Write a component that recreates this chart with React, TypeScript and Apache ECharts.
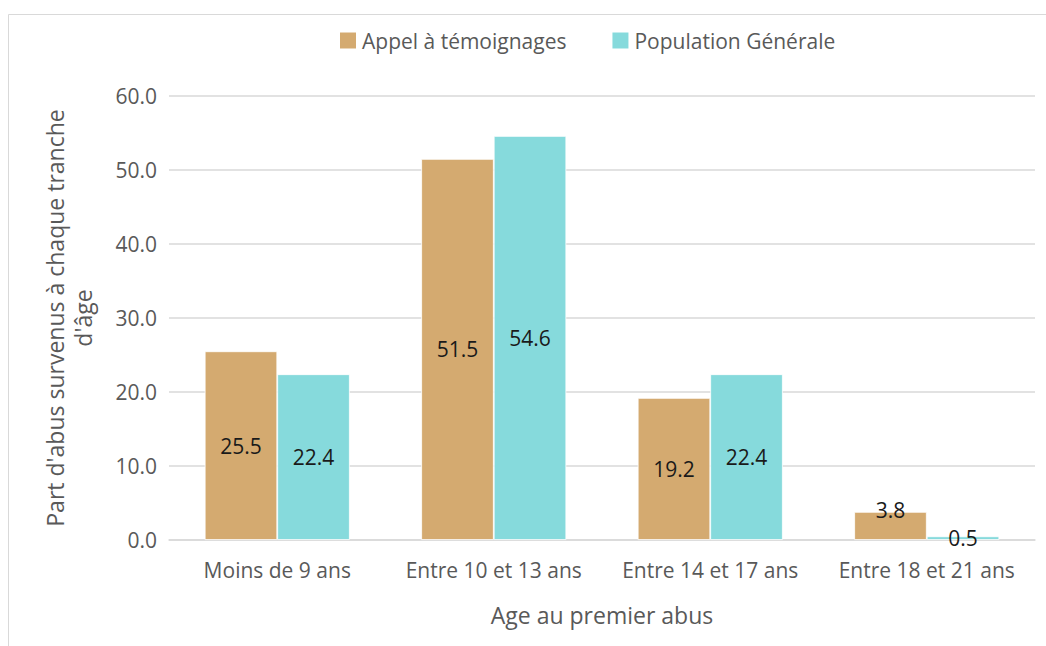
import React, { useEffect, useRef } from "react";
import * as echarts from "echarts";

const categories = ["Moins de 9 ans", "Entre 10 et 13 ans", "Entre 14 et 17 ans", "Entre 18 et 21 ans"];
const appelValues = [25.5, 51.5, 19.2, 3.8];
const populationValues = [22.4, 54.6, 22.4, 0.5];
const seriesNames = ["Appel à témoignages", "Population Générale"];
const yAxisTitle = "Part d'abus survenus à chaque tranche\nd'âge";
const xAxisTitle = "Age au premier abus";

const FONT = "'Open Sans', 'Noto Sans', sans-serif";
const TEXT_GREY = "#595959";

export default function App() {
  const ref = useRef<HTMLDivElement>(null);
  useEffect(() => {
    if (!ref.current) return;
    const chart = echarts.init(ref.current, null, { renderer: "svg" });
    const labelStyle = {
      show: true,
      position: "inside" as const,
      color: "#1a1a1a",
      fontSize: 21,
      fontFamily: FONT,
      formatter: (p: any) => Number(p.value).toFixed(1),
    };
    // small bars: label straddles the bar top as in the original
    const appelData = appelValues.map((v) =>
      v < 10 ? { value: v, label: { position: "top", distance: -9 } } : v
    );
    chart.setOption({
      animation: false,
      backgroundColor: "#ffffff",
      textStyle: { fontFamily: FONT },
      graphic: [
        {
          type: "rect",
          shape: { x: 8.5, y: 14.5, width: 1200, height: 800 },
          style: { fill: "none", stroke: "#d9d9d9", lineWidth: 1 },
          silent: true,
          z: -10,
        },
        {
          type: "text",
          x: 68.5,
          y: 318,
          rotation: Math.PI / 2,
          style: {
            text: yAxisTitle,
            fill: TEXT_GREY,
            font: `23px ${FONT}`,
            align: "center",
            verticalAlign: "middle",
            lineHeight: 28,
          },
        },
      ],
      legend: {
        top: 25,
        left: 333,
        itemWidth: 18,
        itemHeight: 18,
        itemGap: 44,
        textStyle: { color: TEXT_GREY, fontSize: 21, fontFamily: FONT },
        icon: "rect",
        data: seriesNames,
      },
      grid: { left: 169, right: 11, top: 96, bottom: 106, containLabel: false },
      xAxis: {
        type: "category",
        data: categories,
        name: xAxisTitle,
        nameLocation: "middle",
        nameGap: 63,
        nameTextStyle: { color: TEXT_GREY, fontSize: 23, fontFamily: FONT },
        axisLine: { show: true, lineStyle: { color: "#d9d9d9", width: 1.5 } },
        axisTick: { show: false },
        axisLabel: { color: TEXT_GREY, fontSize: 21, fontFamily: FONT, margin: 19, interval: 0 },
      },
      yAxis: {
        type: "value",
        min: 0,
        max: 60,
        interval: 10,
        axisLine: { show: false },
        axisTick: { show: false },
        axisLabel: {
          color: TEXT_GREY,
          fontSize: 21,
          fontFamily: FONT,
          margin: 12,
          formatter: (v: number) => v.toFixed(1),
        },
        splitLine: { lineStyle: { color: "#d9d9d9", width: 1.5 } },
      },
      series: [
        {
          name: seriesNames[0],
          type: "bar",
          data: appelData,
          barGap: "0%",
          barCategoryGap: "33%",
          itemStyle: { color: "#D4AA70", borderColor: "#ffffff", borderWidth: 0.8 },
          label: labelStyle,
        },
        {
          name: seriesNames[1],
          type: "bar",
          data: populationValues,
          barGap: "0%",
          barCategoryGap: "33%",
          itemStyle: { color: "#86DADC", borderColor: "#ffffff", borderWidth: 0.8 },
          label: labelStyle,
        },
      ],
    });
    return () => chart.dispose();
  }, []);
  return (
    <div
      ref={ref}
      style={{ position: "absolute", left: 0, top: 0, width: 1046, height: 646 }}
    />
  );
}
